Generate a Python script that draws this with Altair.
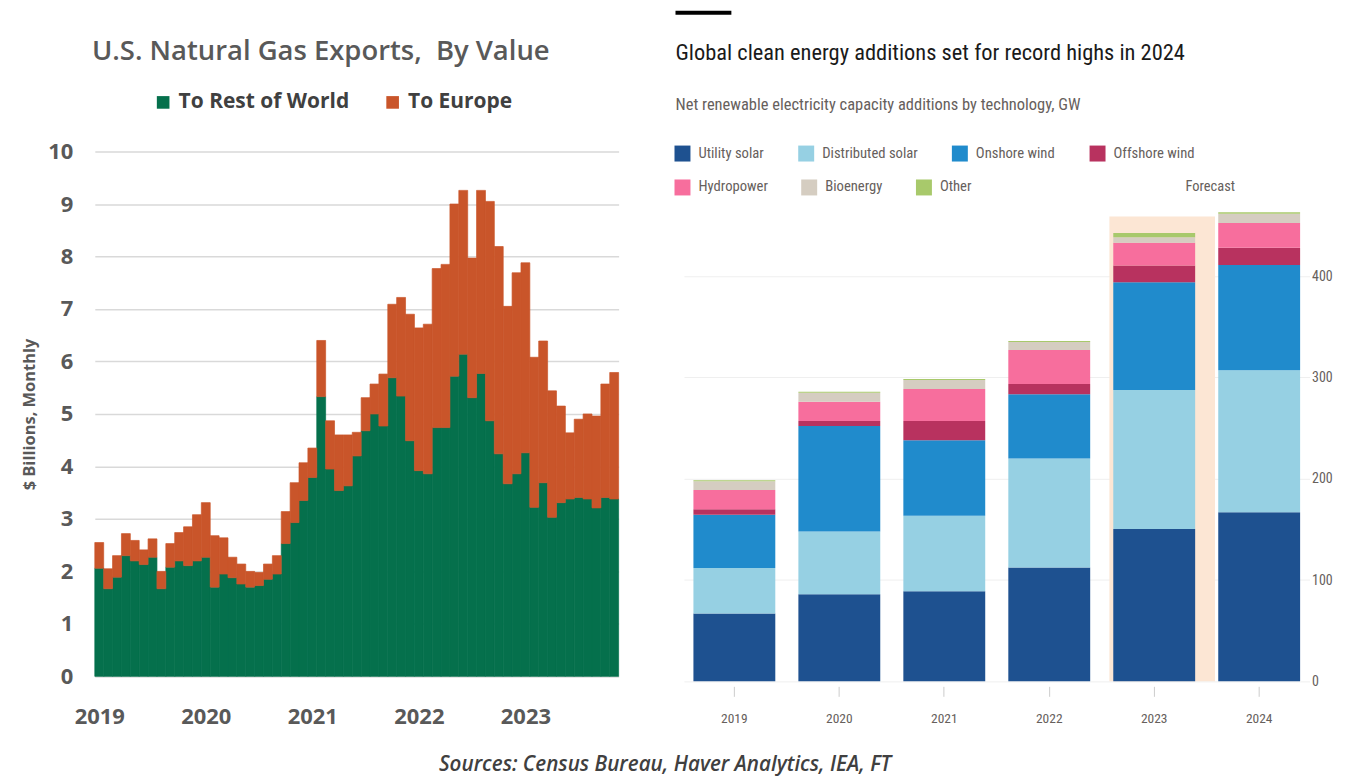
import altair as alt
import pandas as pd

# ---------------- Left chart data: U.S. natural gas exports ($ bn, monthly) ----------------
rest_of_world = [2.06, 1.67, 1.89, 2.30, 2.20, 2.13, 2.27, 1.67, 2.08, 2.20, 2.11, 2.20,
                 2.27, 1.70, 1.95, 1.88, 1.76, 1.70, 1.73, 1.85, 1.95, 2.53, 2.93, 3.35,
                 3.79, 5.33, 3.95, 3.54, 3.63, 4.20, 4.68, 5.00, 4.77, 5.69, 5.34, 4.49,
                 3.92, 3.86, 4.74, 4.74, 5.72, 6.14, 5.31, 5.77, 4.87, 4.24, 3.67, 3.86,
                 4.26, 3.22, 3.69, 3.03, 3.31, 3.38, 3.41, 3.38, 3.21, 3.41, 3.38]
to_europe = [0.49, 0.38, 0.41, 0.42, 0.39, 0.28, 0.35, 0.33, 0.45, 0.54, 0.74, 0.88,
             1.04, 0.98, 0.69, 0.39, 0.38, 0.30, 0.25, 0.29, 0.35, 0.61, 0.76, 0.72,
             0.56, 1.07, 0.92, 1.06, 0.97, 0.45, 0.63, 0.57, 0.99, 1.40, 1.88, 2.41,
             2.72, 2.85, 3.03, 3.11, 3.28, 3.12, 2.66, 3.49, 4.18, 3.95, 3.38, 3.83,
             3.62, 2.86, 2.70, 2.41, 1.84, 1.26, 1.49, 1.62, 1.75, 2.16, 2.41]
months = pd.date_range("2019-01-01", periods=len(rest_of_world), freq="MS").strftime("%Y-%m").tolist()
gas_series = ["To Rest of World", "To Europe"]
gas_colors = ["#05704c", "#c9552a"]

# ---------------- Right chart data: renewable capacity additions (GW) ----------------
years = ["2019", "2020", "2021", "2022", "2023", "2024"]
techs = ["Utility solar", "Distributed solar", "Onshore wind", "Offshore wind",
         "Hydropower", "Bioenergy", "Other"]
tech_colors = ["#1e5190", "#96d0e3", "#208bcc", "#b8325f", "#f76e9d", "#d5cdc1", "#a8c96b"]
utility_solar = [67, 86, 89, 112.5, 150.5, 167]
distributed_solar = [45, 62, 74.5, 107.5, 137, 140]
onshore_wind = [52.5, 104, 74.5, 63.5, 106.5, 104]
offshore_wind = [5.5, 5, 19, 10, 16.5, 17]
hydropower = [19, 19, 31.5, 33.5, 22.5, 24.5]
bioenergy = [8.5, 9, 9, 8, 5.5, 9]
other = [1, 1, 1, 1, 4, 1.5]
forecast_year = "2023"
forecast_top = 459

TITLE_L = "U.S. Natural Gas Exports,\u00a0 By Value"
TITLE_R = "Global clean energy additions set for record highs in 2024"
SUBTITLE_R = "Net renewable electricity capacity additions by technology, GW"
SOURCES = "Sources: Census Bureau, Haver Analytics, IEA, FT"

SANS = "Open Sans"
NARROW = "Liberation Sans Narrow, Arial Narrow, Roboto Condensed, sans-serif"
FT_GREY = "#66605c"

# ---------------- Build left chart ----------------
n = len(months)
left_df = pd.DataFrame({
    "month": months * 2,
    "i": list(range(n)) * 2,
    "series": [gas_series[0]] * n + [gas_series[1]] * n,
    "value": rest_of_world + to_europe,
    "ord": [0] * n + [1] * n,
})

gas_scale = alt.Scale(domain=gas_series, range=gas_colors)
left = alt.Chart(left_df).transform_stack(
    stack="value", as_=["y0", "y1"], groupby=["i"],
    sort=[alt.SortField("ord", order="ascending")],
).transform_calculate(
    i2="datum.i + 1"
).mark_rect(strokeWidth=0.7).encode(
    x=alt.X("i:Q", scale=alt.Scale(domain=[0, n], nice=False, zero=False),
            axis=alt.Axis(values=[0.5, 12.5, 24.5, 36.5, 48.5],
                          labelExpr="floor(datum.value / 12) + 2019",
                          title=None, grid=False, ticks=False,
                          domain=True, domainColor="#d9d9d9",
                          labelFont=SANS, labelFontSize=22, labelFontWeight="bold",
                          labelColor="#595959", labelPadding=30)),
    x2="i2:Q",
    y=alt.Y("y0:Q", scale=alt.Scale(domain=[0, 10], nice=False),
            axis=alt.Axis(values=list(range(11)), title="$ Billions, Monthly",
                          ticks=False, domain=False, grid=True,
                          gridColor="#d9d9d9", gridWidth=1.5,
                          labelFont=SANS, labelFontSize=22, labelFontWeight="bold",
                          labelColor="#595959", labelPadding=22,
                          titleFont=SANS, titleFontSize=16.5, titleFontWeight="bold",
                          titleColor="#595959", titlePadding=10)),
    y2="y1:Q",
    color=alt.Color("series:N", scale=gas_scale,
                    legend=alt.Legend(title=None, orient="none", legendX=58, legendY=-60,
                                      direction="horizontal", symbolType="square",
                                      symbolSize=160, symbolStrokeWidth=0,
                                      labelFont=SANS, labelFontSize=21, labelLimit=400,
                                      labelFontWeight="bold", labelColor="#404040",
                                      columnPadding=32, labelOffset=5)),
    stroke=alt.Stroke("series:N", scale=gas_scale, legend=None),
).properties(
    width=525, height=526,
    title=alt.TitleParams(TITLE_L, font=SANS, fontSize=27.5, fontWeight=600,
                          color="#595959", anchor="middle", frame="group",
                          dx=-36, offset=26),
)

# ---------------- Build right chart ----------------
rows = []
for t_idx, (tech, vals) in enumerate(zip(techs, [utility_solar, distributed_solar, onshore_wind,
                                                 offshore_wind, hydropower, bioenergy, other])):
    for y, v in zip(years, vals):
        rows.append({"year": y, "tech": tech, "value": v, "ord": t_idx})
tech_df = pd.DataFrame(rows)

x_scale = alt.Scale(domain=years, paddingInner=0.22, paddingOuter=0.09)
x_axis = alt.Axis(title=None, labelAngle=0, labelFont=NARROW, labelFontSize=13.5,
                  labelColor=FT_GREY, labelPadding=15, tickSize=10, tickColor="#cccccc",
                  domain=False, offset=5, grid=False)
y_scale = alt.Scale(domain=[0, 523], nice=False)
y_axis = alt.Axis(orient="right", values=[0, 100, 200, 300, 400], title=None,
                  ticks=False, domain=False, grid=True, gridColor="#efefef",
                  labelFont=NARROW, labelFontSize=14, labelColor=FT_GREY,
                  labelPadding=2, labelAlign="left")

shade = alt.Chart(pd.DataFrame({"year": [forecast_year], "top": [forecast_top]})).mark_bar(
    color="#fce6d4", width=alt.RelativeBandSize(1.29), xOffset=8
).encode(
    x=alt.X("year:N", scale=x_scale, axis=x_axis),
    y=alt.Y("top:Q", scale=y_scale, axis=y_axis),
)

bars = alt.Chart(tech_df).mark_bar().encode(
    x=alt.X("year:N", scale=x_scale, axis=x_axis),
    y=alt.Y("value:Q", stack="zero", scale=y_scale, axis=y_axis),
    color=alt.Color("tech:N", scale=alt.Scale(domain=techs, range=tech_colors), legend=None),
    order=alt.Order("ord:Q", sort="ascending"),
)


def legend_row(items, lx, ly, pad):
    cols = [tech_colors[techs.index(t)] for t in items]
    return alt.Chart(tech_df).transform_filter("false").mark_square(opacity=1, filled=True).encode(
        color=alt.Color("tech:N", scale=alt.Scale(domain=items, range=cols),
                        legend=alt.Legend(title=None, orient="none", legendX=lx, legendY=ly,
                                          direction="horizontal", symbolType="square",
                                          symbolSize=256, symbolStrokeWidth=0,
                                          symbolOpacity=1, labelFont=NARROW,
                                          labelFontSize=14.7, labelColor=FT_GREY,
                                          labelOffset=8, columnPadding=pad,
                                          labelLimit=300)),
    )


legend_a = legend_row(techs[0:4], -9.5, -6, 34)
legend_c = legend_row(techs[4:7], -9.5, 28, 33)

forecast_label = alt.Chart(pd.DataFrame({"year": ["2024"], "label": ["Forecast"], "v": [488]})).mark_text(
    font=NARROW, fontSize=14.5, color=FT_GREY, align="center", baseline="middle", dx=-8
).encode(
    x=alt.X("year:N", scale=x_scale, axis=x_axis, bandPosition=0),
    y=alt.Y("v:Q", scale=y_scale, axis=y_axis),
    text="label:N",
)

header_rule = alt.Chart(pd.DataFrame({"k": [0]})).mark_rule(
    color="#000000", strokeWidth=4
).encode(x=alt.value(-8.5), x2=alt.value(47.5), y=alt.value(-139))

header_title = alt.Chart(pd.DataFrame({"t": [TITLE_R]})).mark_text(
    font=NARROW, fontSize=22.5, color="#1a1a1a", align="left", baseline="alphabetic"
).encode(x=alt.value(-8.5), y=alt.value(-92), text="t:N")

header_sub = alt.Chart(pd.DataFrame({"t": [SUBTITLE_R]})).mark_text(
    font=NARROW, fontSize=16.5, color=FT_GREY, align="left", baseline="alphabetic"
).encode(x=alt.value(-8.5), y=alt.value(-42), text="t:N")

right = alt.layer(shade, bars, legend_a, legend_c, forecast_label,
                  header_rule, header_title, header_sub).resolve_scale(
    color="independent"
).properties(width=627, height=531)

chart = alt.hconcat(left, right, spacing=65.5, bounds="flush").resolve_scale(
    color="independent", stroke="independent"
).resolve_legend(color="independent").properties(
    background="white",
    padding={"left": 13, "top": 2, "right": 5, "bottom": 5},
    title=alt.TitleParams(SOURCES, orient="bottom", anchor="middle", font=SANS,
                          fontSize=20.7, fontStyle="italic", fontWeight=600,
                          color="#404040", offset=28, dx=-12),
).configure_view(strokeWidth=0, stroke="transparent")

chart.save("out.html", embed_options={"renderer": "svg", "actions": False})
